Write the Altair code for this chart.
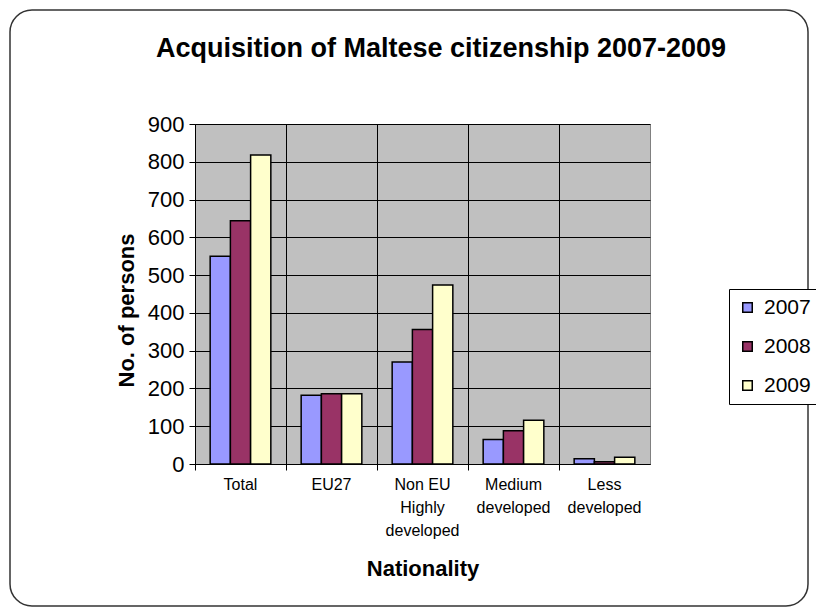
import altair as alt
import pandas as pd

title_text = "Acquisition of Maltese citizenship 2007-2009"
categories = ["Total", "EU27", "Non EU\nHighly\ndeveloped", "Medium\ndeveloped", "Less\ndeveloped"]
years = ["2007", "2008", "2009"]
v2007 = [550, 182, 270, 65, 14]
v2008 = [644, 186, 356, 88, 6]
v2009 = [818, 186, 474, 116, 18]
colors = ["#9999FF", "#993366", "#FFFFCC"]

rows = []
for i, c in enumerate(categories):
    for y, vals in zip(years, [v2007, v2008, v2009]):
        rows.append({"Nationality": c, "Year": y, "Persons": vals[i]})
df = pd.DataFrame(rows)

FONT = "Liberation Sans"

bars = alt.Chart(df).mark_bar(stroke="black", strokeWidth=1.5).encode(
    x=alt.X("Nationality:N", sort=categories,
            scale=alt.Scale(paddingInner=0, paddingOuter=0),
            axis=alt.Axis(title="Nationality", labelAngle=0,
                          labelExpr="split(datum.label, '\\n')",
                          labelFontSize=16, labelLineHeight=23,
                          labelPadding=6, labelBaseline="top",
                          tickSize=6, tickColor="black", domainColor="black",
                          bandPosition=0, grid=True, gridColor="black",
                          titleFontSize=22, titleFontWeight="bold",
                          titleBaseline="alphabetic", titleY=111,
                          titleColor="black", labelColor="black")),
    xOffset=alt.XOffset("Year:N", scale=alt.Scale(paddingOuter=0.75, paddingInner=0)),
    y=alt.Y("Persons:Q", scale=alt.Scale(domain=[0, 900]),
            axis=alt.Axis(title="No. of persons", values=list(range(0, 901, 100)),
                          labelFontSize=22, labelColor="black", labelPadding=5,
                          tickSize=6, tickColor="black", domainColor="black",
                          gridColor="black", titleFontSize=22, titleFontWeight="bold",
                          titleColor="black", titleBaseline="alphabetic",
                          titleX=-62, titleY=186, titleAlign="center")),
    color=alt.Color("Year:N", scale=alt.Scale(domain=years, range=colors),
                    legend=alt.Legend(title=None, orient="none", legendX=534, legendY=165,
                                      symbolType="square", symbolSize=90,
                                      symbolStrokeColor="black", symbolStrokeWidth=1.5,
                                      labelFontSize=21, labelColor="black",
                                      labelOffset=6, rowPadding=17, padding=8,
                                      strokeColor="black", fillColor="white")),
)

title = alt.Chart(pd.DataFrame({"t": [title_text]})).mark_text(
    fontSize=27, fontWeight="bold", font=FONT, color="black",
    align="center", baseline="alphabetic", clip=False
).encode(text="t:N", x=alt.value(246), y=alt.value(-67))

border = alt.Chart(pd.DataFrame({"t": [title_text]})).mark_rect(
    fill=None, stroke="#333333", strokeWidth=1.5, cornerRadius=22, clip=False
).encode(
    x=alt.value(-185), x2=alt.value(613), y=alt.value(-114), y2=alt.value(482)
)

chart = alt.layer(bars, title, border).properties(
    width=455, height=340,
    autosize=alt.AutoSizeParams(type="none"),
    padding={"left": 195, "top": 124, "right": 166, "bottom": 150},
).configure(font=FONT, background="white").configure_view(
    fill="#C0C0C0", stroke="#808080", strokeWidth=1
).configure_axis(labelFont=FONT, titleFont=FONT)

chart.save("out.html", embed_options={"renderer": "svg", "actions": False})
